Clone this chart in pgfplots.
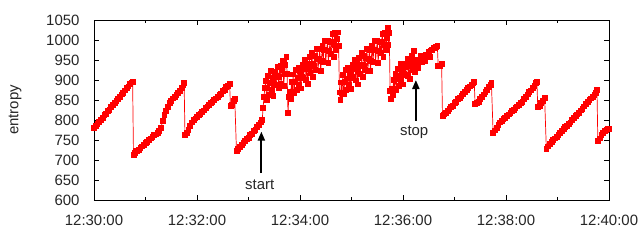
\documentclass[border=0pt]{standalone}
\usepackage{pgfplots}
\pgfplotsset{compat=1.18}
\usetikzlibrary{arrows.meta}
\usepackage{fontspec}
\setmainfont{Liberation Sans}
\begin{document}
\begin{tikzpicture}
\path[use as bounding box] (-94bp,-40bp) rectangle (546bp,200bp);
\begin{axis}[
  at={(0,0)}, anchor=south west,
  width=515bp, height=180bp, scale only axis,
  xmin=0, xmax=600, ymin=600, ymax=1050,
  xtick={0,120,240,360,480,600},
  xticklabels={12:30:00,12:32:00,12:34:00,12:36:00,12:38:00,12:40:00},
  minor xtick={60,180,300,420,540},
  ytick={600,650,...,1050},
  tick align=inside,
  major tick length=5bp, minor tick length=3bp,
  tick style={black, line width=0.8bp},
  axis line style={black, line width=0.8bp},
  every tick label/.append style={font=\fontsize{15}{18}\selectfont, text=black!85},
  yticklabel style={/pgf/number format/assume math mode=true, /pgf/number format/1000 sep={}, xshift=-11bp},
  xticklabel style={yshift=-12bp},
  ylabel={entropy},
  ylabel style={font=\fontsize{15}{18}\selectfont, text=black!85, at={(axis description cs:0,0.5)}, anchor=center, yshift=79bp},
  clip=false,
]
\addplot[red, line width=0.7bp, mark=square*, mark size=2.4bp, mark options={fill=red, draw=red}] coordinates {
(0,780)(2,786)(4,790)(6,796)(8,800)(10,806)(12,812)(14,816)(16,822)(18,826)(20,832)(22,838)(24,842)(26,848)(28,852)(30,858)(32,864)(34,868)(36,874)(38,880)(40,884)(42,890)(44,894)(45,895)
(46,712)(48,718)(50,722)(52,726)(54,730)(56,734)(58,738)(60,742)(62,746)(64,750)(66,754)(68,758)(70,762)(72,764)(74,768)(76,772)(78,780)(80,798)(82,812)(84,822)(86,832)(88,842)(90,848)(92,854)(94,858)(96,862)(98,868)(100,872)(102,880)(104,888)(105,892)
(106,762)(108,768)(110,776)(112,786)(114,794)(116,800)(118,804)(120,808)(122,812)(124,816)(126,820)(128,824)(130,830)(132,834)(134,838)(136,842)(138,846)(140,850)(142,854)(144,858)(146,862)(148,866)(150,872)(152,876)(154,882)(156,886)(158,890)(159,835)(161,838)(163,848)(164,852)
(166,722)(168,728)(170,732)(172,738)(174,742)(176,748)(178,752)(180,756)(182,762)(184,766)(186,772)(188,776)(190,782)(192,788)(194,794)(196,800)
(197,830)(198,857)(199,880)(200,898)(201,850)(202,880)(203,910)(204,863)(205,892)(206,922)(207,875)(208,905)(209,861)(210,890)(211,920)(212,888)(213,910)(214,933)(215,879)(216,908)(217,935)(218,890)(219,924)(220,947)(221,886)(222,916)(223,938)(224,957)(225,915)(226,817)(227,858)
(228,871)(229,852)(230,896)(231,870)(232,914)(233,867)(234,896)(235,926)(236,876)(237,906)(238,930)(239,888)(240,922)(241,879)(242,908)(243,938)(244,905)(245,928)(246,950)(247,900)(248,940)(249,890)(250,927)(251,957)(252,917)(253,940)(254,969)(255,908)(256,935)(257,961)(258,925)(259,954)(260,977)(261,924)(262,953)(263,977)(264,922)(265,948)(266,985)(267,945)(268,975)(269,998)(270,944)(271,974)(272,997)(273,943)(274,972)(275,995)(276,966)(277,995)(278,1015)(279,958)(280,987)(281,1017)(282,974)(283,1003)(284,1019)(285,986)
(286,869)(287,850)(288,894)(289,868)(290,912)(291,865)(292,895)(293,925)(294,875)(295,904)(296,930)(297,887)(298,920)(299,877)(300,907)(301,937)(302,904)(303,927)(304,950)(305,899)(306,940)(307,889)(308,926)(309,956)(310,916)(311,939)(312,969)(313,908)(314,935)(315,961)(316,925)(317,954)(318,977)(319,923)(320,953)(321,976)(322,922)(323,948)(324,985)(325,945)(326,975)(327,998)(328,944)(329,974)(330,997)(331,943)(332,973)(333,996)(334,967)(335,996)(336,1016)(337,958)(338,988)(339,1018)(340,974)(341,1004)(342,1030)(343,987)(344,1017)(345,872)(346,852)
(347,878)(348,862)(349,900)(350,878)(351,916)(352,876)(353,902)(354,928)(355,885)(356,911)(357,940)(358,897)(359,926)(360,889)(361,915)(362,941)(363,913)(364,933)(365,953)(366,910)(367,945)(368,902)(369,934)(370,960)(371,926)(372,946)(373,972)(374,920)(375,946)
(376,935)(377,950)(378,930)(380,948)(381,960)(382,944)(384,958)(385,948)(386,964)(388,960)(390,970)(391,958)(392,974)(394,975)(396,980)(398,982)(400,986)(401,935)(403,935)(405,940)
(406,810)(408,814)(410,818)(412,822)(414,828)(416,832)(418,836)(420,842)(422,846)(424,852)(426,856)(428,860)(430,866)(432,870)(434,876)(436,880)(438,884)(440,888)(442,892)(443,895)
(444,840)(446,842)(448,846)(450,852)(452,858)(454,864)(456,870)(458,876)(460,882)(462,888)(463,893)
(465,768)(467,774)(469,780)(471,788)(473,794)(475,798)(477,802)(479,806)(481,810)(483,814)(485,818)(487,822)(489,826)(491,830)(493,834)(495,838)(497,842)(499,846)(501,852)(503,858)(505,864)(507,870)(509,874)(511,880)(513,886)(515,892)(516,895)
(517,833)(519,836)(521,842)(523,848)(525,855)
(527,728)(529,734)(531,740)(533,746)(535,750)(537,754)(539,758)(541,762)(543,768)(545,772)(547,778)(549,782)(551,786)(553,790)(555,794)(557,800)(559,806)(561,810)(563,814)(565,818)(567,824)(569,828)(571,834)(573,840)(575,846)(577,850)(579,854)(581,858)(583,862)(585,868)(586,875)
(587,748)(589,754)(591,762)(593,768)(595,772)(597,776)(599,778)(600,778)
};
\draw[-{Triangle[length=9bp,width=7bp]}, line width=2bp, black] (axis cs:195,667) -- (axis cs:195,771);
\node[font=\fontsize{15}{18}\selectfont, text=black!85] at (axis cs:193,637) {start};
\draw[-{Triangle[length=9bp,width=7bp]}, line width=2bp, black] (axis cs:375,798) -- (axis cs:375,900);
\node[font=\fontsize{15}{18}\selectfont, text=black!85] at (axis cs:373,770) {stop};
\end{axis}
\end{tikzpicture}
\end{document}
